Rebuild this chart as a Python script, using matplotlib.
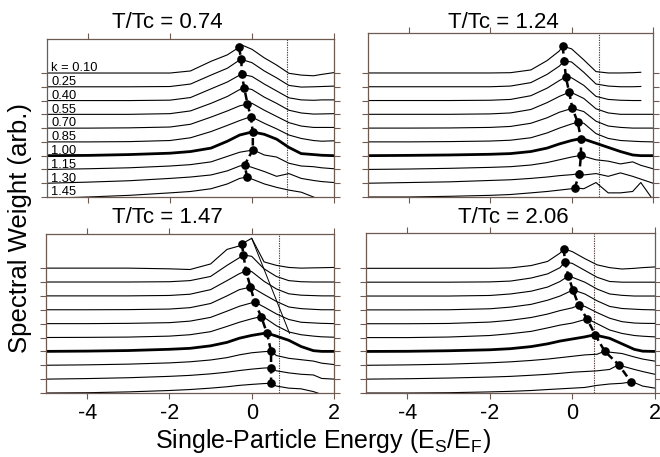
import numpy as np
import matplotlib
matplotlib.use('Agg')
import matplotlib.pyplot as plt

plt.rcParams['font.family'] = ['Liberation Sans', 'DejaVu Sans']
plt.rcParams['mathtext.fontset'] = 'custom'
plt.rcParams['mathtext.rm'] = 'Liberation Sans'

#Momentum values, top curve first
K_VALUES = [0.10, 0.25, 0.40, 0.55, 0.70, 0.85, 1.00, 1.15, 1.30, 1.45]
#Common energy grid (E_S/E_F) the curves are sampled on
ENERGY = [-5, -4, -3, -2, -1.5, -1, -0.6, -0.3, 0, 0.3, 0.6, 0.9, 1.2, 1.5, 1.7, 2.0]
TEMPS = ['0.74', '1.24', '1.47', '2.06']
FERMI_X = [0.85, 0.67, 0.66, 0.53]
X_TICKS = [-4, -2, 0, 2]
X_TICK_LABELS = ['-4', '-2', '0', '2']

nan = float('nan')

## T/Tc = 0.74
W_074 = [
    [0, 0, 0, 0, 0.15, 0.85, 1.32, 2.10, 1.72, 1.10, 0.58, -0.02, -0.15, -0.20, -0.10, 0.03],
    [0, 0, 0, 0.02, 0.20, 0.85, 1.35, 1.95, 1.75, 1.15, 0.65, 0.10, -0.02, 0, 0.02, 0.05],
    [0, 0, 0, 0.03, 0.22, 0.85, 1.35, 1.85, 1.75, 1.20, 0.70, 0.20, 0.05, 0.02, 0.05, 0.05],
    [0, 0, 0, 0.05, 0.25, 0.80, 1.30, 1.80, 1.80, 1.25, 0.80, 0.30, 0.10, 0.02, 0.03, 0.05],
    [0, 0, 0.02, 0.08, 0.28, 0.80, 1.25, 1.62, 1.80, 1.30, 0.85, 0.40, 0.15, 0.05, 0.05, 0.05],
    [0, 0, 0.02, 0.10, 0.30, 0.75, 1.20, 1.55, 1.80, 1.35, 0.95, 0.50, 0.25, 0.10, 0.05, 0.08],
    [0, 0.02, 0.08, 0.18, 0.30, 0.55, 1.05, 1.50, 1.72, 1.55, 1.20, 0.60, 0.15, 0.08, 0.03, 0],
    [0, 0.05, 0.12, 0.25, 0.35, 0.55, 0.95, 1.25, 1.40, 1.05, 0.90, 0.45, 0.25, 0.20, 0.12, 0.05],
    [0, 0.08, 0.18, 0.35, 0.45, 0.60, 0.90, 1.25, 1.15, 0.85, 0.50, 0.70, 0.35, 0.20, 0.12, 0.05],
    [-0.10, 0, 0.12, 0.30, 0.40, 0.60, 0.95, 1.35, 1.30, 0.95, 0.70, 0.50, 0.35, 0, -0.25, -0.40],
]
PEAK_E_074 = [-0.32, -0.26, -0.25, -0.19, -0.11, -0.03, 0.02, 0.02, -0.18, -0.12]
PEAK_W_074 = [1.86, 1.99, 1.90, 1.93, 1.75, 1.83, 1.72, 1.43, 1.32, 1.45]

## T/Tc = 1.24
W_124 = [
    [0, 0, 0, 0, 0.02, 0.22, 0.90, 1.60, 1.75, 0.95, 0.10, 0, 0, 0.02, 0.05, nan],
    [0, 0, 0, 0, 0.05, 0.30, 0.90, 1.50, 1.80, 1.05, 0.20, 0.05, 0, 0, 0.02, nan],
    [0, 0, 0, 0.02, 0.08, 0.35, 0.90, 1.45, 1.65, 1.10, 0.30, 0.08, 0.02, 0, 0, nan],
    [0, 0, 0, 0.03, 0.10, 0.35, 0.85, 1.30, 1.58, 1.15, 0.40, 0.10, 0, 0, 0, 0],
    [0, 0, 0.01, 0.05, 0.12, 0.35, 0.75, 1.15, 1.42, 1.20, 0.50, 0.15, 0.05, 0, 0, 0],
    [0, 0, 0.02, 0.06, 0.12, 0.30, 0.65, 1.00, 1.30, 1.35, 0.60, 0.25, 0.10, 0.05, 0.02, 0],
    [0, 0.02, 0.05, 0.10, 0.15, 0.30, 0.55, 0.85, 1.10, 1.20, 0.90, 0.60, 0.30, 0.05, 0, 0],
    [0, 0.03, 0.08, 0.15, 0.20, 0.32, 0.50, 0.70, 0.90, 0.95, 0.70, 0.60, 0.40, 0.55, 0.30, 0.05],
    [0, 0.05, 0.10, 0.20, 0.25, 0.35, 0.45, 0.55, 0.62, 0.60, 0.70, 0.50, 0.75, 0.50, 0.30, 0],
    [0, 0, 0.05, 0.12, 0.18, 0.30, 0.40, 0.50, 0.60, 0.60, 1.05, 0.30, 0.30, 0.40, 1.05, -0.20],
]
PEAK_E_124 = [-0.22, -0.18, -0.14, -0.06, 0.02, 0.15, 0.23, 0.23, 0.19, 0.08]
PEAK_W_124 = [1.95, 1.87, 1.72, 1.60, 1.43, 1.43, 1.24, 1.02, 0.69, 0.66]

## T/Tc = 1.47
W_147 = [
    [0, 0, 0, -0.05, -0.10, 0.30, 1.35, 1.60, 2.15, 0.45, 0.20, 0.05, 0, 0.02, 0.03, 0.05],
    [0, 0, 0, 0.02, 0.10, 0.40, 1.20, 1.75, 1.85, 0.95, 0.40, 0.10, 0.02, 0, 0, 0],
    [0, 0, 0, 0.03, 0.12, 0.45, 1.10, 1.60, 1.75, 1.05, 0.50, 0.15, 0.05, 0.02, 0, 0],
    [0, 0, 0.01, 0.05, 0.15, 0.45, 1.00, 1.45, 1.62, 1.10, 0.60, 0.20, 0.08, 0.03, 0, 0],
    [0, 0, 0.02, 0.07, 0.18, 0.45, 0.90, 1.25, 1.50, 1.20, 0.70, 0.30, 0.10, 0.05, 0.02, 0],
    [0, 0.01, 0.03, 0.10, 0.20, 0.42, 0.80, 1.10, 1.35, 1.45, 0.85, 0.40, 0.20, 0.10, 0.05, 0.02],
    [0, 0.02, 0.06, 0.15, 0.22, 0.40, 0.65, 0.95, 1.15, 1.30, 1.10, 0.80, 0.35, 0.05, 0, 0],
    [0, 0.03, 0.08, 0.17, 0.25, 0.38, 0.55, 0.75, 0.90, 0.98, 0.70, 0.50, 0.40, 0.30, 0.15, 0.05],
    [0, 0.04, 0.10, 0.20, 0.27, 0.38, 0.50, 0.62, 0.72, 0.80, 0.60, 0.45, 0.35, 0.30, 0.05, 0],
    [0, 0.02, 0.08, 0.18, 0.25, 0.35, 0.45, 0.55, 0.62, 0.68, 0.50, 0.35, 0.30, 0.10, -0.10, -0.10],
]
PEAK_E_147 = [-0.24, -0.20, -0.14, -0.03, 0.07, 0.23, 0.37, 0.47, 0.47, 0.47]
PEAK_W_147 = [1.75, 1.95, 1.80, 1.63, 1.56, 1.51, 1.32, 1.01, 0.82, 0.70]
#stray straight segment leaving the top peak
STRAY_E_147 = [0.0, 0.92]
STRAY_Y_147 = [11.15, 4.3]

## T/Tc = 2.06
W_206 = [
    [0, 0, 0, 0, 0.03, 0.20, 0.50, 1.10, 1.20, 0.70, 0.25, 0.05, -0.05, 0, 0.05, 0.10],
    [0, 0, 0, 0.02, 0.08, 0.30, 0.60, 1.05, 1.35, 0.85, 0.35, 0.05, 0, 0, 0, 0],
    [0, 0, 0, 0.04, 0.15, 0.35, 0.65, 1.05, 1.35, 1.00, 0.50, 0.15, 0.05, 0, 0, 0],
    [0, 0, 0.01, 0.08, 0.20, 0.40, 0.70, 1.00, 1.42, 1.15, 0.65, 0.25, 0.10, 0.05, 0.02, 0],
    [0, 0, 0.02, 0.12, 0.25, 0.45, 0.70, 0.95, 1.15, 1.25, 0.80, 0.40, 0.15, 0.05, 0.03, 0.02],
    [0, 0, 0.04, 0.15, 0.28, 0.45, 0.70, 0.90, 1.05, 1.30, 1.00, 0.55, 0.30, 0.15, 0.10, 0.05],
    [0, 0.01, 0.05, 0.12, 0.20, 0.35, 0.55, 0.75, 0.90, 1.05, 1.15, 0.95, 0.55, 0.15, 0.02, 0],
    [0, 0.03, 0.08, 0.18, 0.25, 0.35, 0.45, 0.55, 0.65, 0.75, 0.80, 0.95, 0.85, 0.60, 0.45, 0.30],
    [0, 0.03, 0.08, 0.15, 0.20, 0.28, 0.35, 0.42, 0.50, 0.55, 0.60, 0.70, 0.95, 0.70, 0.55, 0.35],
    [0, 0, 0.02, 0.08, 0.12, 0.18, 0.25, 0.30, 0.35, 0.40, 0.55, 0.65, 0.70, 0.75, 0.50, 0.35],
]
PEAK_E_206 = [-0.21, -0.18, -0.10, 0.01, 0.15, 0.35, 0.55, 0.78, 1.12, 1.42]
PEAK_W_206 = [1.42, 1.47, 1.44, 1.45, 1.34, 1.37, 1.21, 1.02, 1.04, 0.80]

FRAME = '#6f5a52'


def draw_panel(ax, weights, peak_e, peak_w, fermi, ytop, bottom_labels=False, k_labels=False):
    n = len(weights)
    bases = [n - 1 - i for i in range(n)]
    for i, w in enumerate(weights):
        #put the peak point into the sampled curve
        xs = np.array(ENERGY + [peak_e[i]], dtype=float)
        ys = np.array(w + [peak_w[i]], dtype=float)
        order = np.argsort(xs, kind='stable')
        lw = 2.0 if K_VALUES[i] == 1.00 else 0.8
        ax.plot(xs[order], bases[i] + ys[order], color='black', lw=lw, zorder=2)
        if k_labels:
            txt = f"k = {K_VALUES[i]:.2f}" if i == 0 else f"{K_VALUES[i]:.2f}"
            ax.text(-4.9, bases[i] + 0.12, txt, fontsize=9.3, va='baseline', ha='left', zorder=3)
    ax.plot(peak_e, np.array(bases) + np.array(peak_w), color='black', lw=1.8,
            dashes=(3.0, 1.6), marker='o', ms=5.2, zorder=4)
    ax.axvline(fermi, color='#5a4038', lw=0.8, ls=(0, (1.2, 1.0)), zorder=1)

    ax.set_xlim(-5, 2)
    ax.set_ylim(0, ytop)
    ax.set_xticks(X_TICKS)
    ax.set_xticklabels(X_TICK_LABELS)
    ax.set_yticks(bases)
    ax.set_yticklabels([])
    ax.tick_params(direction='out', length=4.5, width=0.8, color=FRAME,
                   top=True, right=True, labelbottom=bottom_labels,
                   labelsize=15.5, pad=3)
    for s in ax.spines.values():
        s.set_color(FRAME)
        s.set_linewidth(0.9)


fig = plt.figure(figsize=(6.6, 4.57), dpi=100)

W = 660.0
H = 457.0
def rect(x0, x1, y0, y1):
    return [x0 / W, 1 - y1 / H, (x1 - x0) / W, (y1 - y0) / H]

ax1 = fig.add_axes(rect(47, 334, 39, 197))
ax2 = fig.add_axes(rect(368, 653, 33, 197))
ax3 = fig.add_axes(rect(46, 334, 234, 393))
ax4 = fig.add_axes(rect(366, 655, 233, 393))

draw_panel(ax1, W_074, PEAK_E_074, PEAK_W_074, FERMI_X[0], 11.47, k_labels=True)
draw_panel(ax2, W_124, PEAK_E_124, PEAK_W_124, FERMI_X[1], 11.9)
draw_panel(ax3, W_147, PEAK_E_147, PEAK_W_147, FERMI_X[2], 11.46, bottom_labels=True)
ax3.plot(STRAY_E_147, STRAY_Y_147, color='black', lw=0.7, zorder=2)
draw_panel(ax4, W_206, PEAK_E_206, PEAK_W_206, FERMI_X[3], 11.55, bottom_labels=True)

title_pos = [(167, 28), (503, 28), (167, 223), (513, 223)]
for (tx, ty), t in zip(title_pos, TEMPS):
    fig.text(tx / W, 1 - ty / H, f"T/Tc = {t}", fontsize=16, ha='center', va='baseline')

fig.text(323 / W, 1 - 448 / H, 'Single-Particle Energy (E$_\\mathregular{S}$/E$_\\mathregular{F}$)',
         fontsize=18, ha='center', va='baseline')
fig.text(20 / W, 1 - 228 / H, 'Spectral Weight (arb.)', fontsize=18.5, rotation=90,
         ha='center', va='center')

fig.savefig('out.png', dpi=100)
